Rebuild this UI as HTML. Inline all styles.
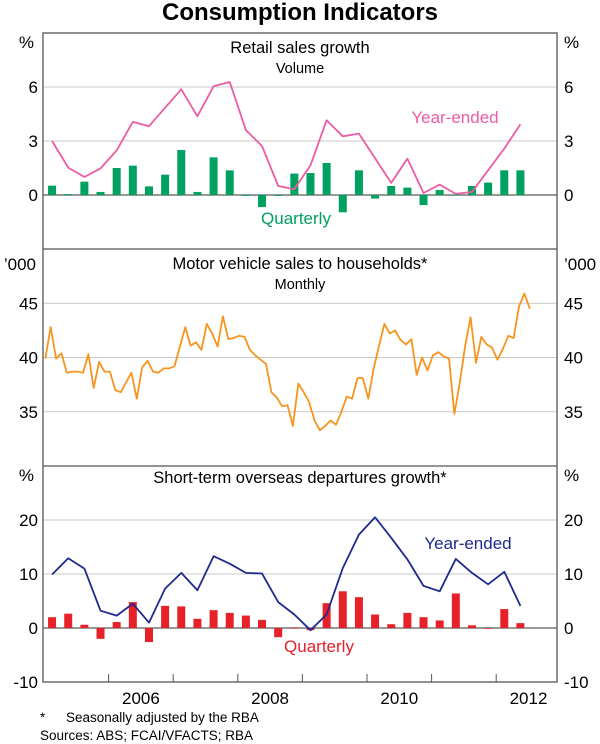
<!DOCTYPE html>
<html><head><meta charset="utf-8"><style>
body{margin:0;background:#fff;}
svg{display:block;font-family:"Liberation Sans",Arial,sans-serif;}
</style></head><body>
<svg id="chart" width="600" height="744" viewBox="0 0 600 744">
<text x="300" y="20" text-anchor="middle" font-size="24" font-weight="bold">Consumption Indicators</text>
<g id="grid"></g>
<g id="marks"></g>
<g id="frame"></g>
<g id="labels" font-size="17" fill="#000"></g>
<text x="300" y="53" text-anchor="middle" font-size="16.5">Retail sales growth</text>
<text x="300" y="73" text-anchor="middle" font-size="14.5">Volume</text>
<text x="455" y="123" text-anchor="middle" font-size="17" fill="#ec5ca3">Year-ended</text>
<text x="296" y="224" text-anchor="middle" font-size="17" fill="#00a060">Quarterly</text>
<text x="300" y="269" text-anchor="middle" font-size="16.5">Motor vehicle sales to households*</text>
<text x="300" y="289" text-anchor="middle" font-size="14.5">Monthly</text>
<text x="300" y="483" text-anchor="middle" font-size="16.5">Short-term overseas departures growth*</text>
<text x="468" y="549" text-anchor="middle" font-size="17" fill="#1f2a8c">Year-ended</text>
<text x="319" y="652" text-anchor="middle" font-size="17" fill="#e8202a">Quarterly</text>
<text x="40" y="722" font-size="13.5">*</text>
<text x="66" y="722" font-size="13.5">Seasonally adjusted by the RBA</text>
<text x="40" y="740" font-size="13.5">Sources: ABS; FCAI/VFACTS; RBA</text>
</svg>
<script>
// ---- data ----
const years = ['2006','2008','2010','2012'];
const yearValues = [2006,2008,2010,2012];
const retailQuarterly = [0.52,0.05,0.74,0.17,1.5,1.63,0.48,1.13,2.5,0.17,2.09,1.37,-0.05,-0.67,-0.05,1.19,1.22,1.78,-0.96,1.37,-0.2,0.5,0.41,-0.56,0.28,0.02,0.5,0.69,1.37,1.37];
const retailYearEnded = [3.0,1.52,1.0,1.48,2.48,4.06,3.82,4.85,5.87,4.37,6.04,6.28,3.6,2.72,0.5,0.32,1.65,4.15,3.26,3.41,2.04,0.67,2.02,0.11,0.58,0.06,0.17,1.37,2.58,3.93];
const retailTicks = [0,3,6];
const vehicleMonthly = [39.9,42.8,39.9,40.4,38.6,38.7,38.7,38.6,40.3,37.2,39.6,38.7,38.7,37.0,36.8,37.7,38.6,36.2,39.1,39.7,38.7,38.6,39.0,39.0,39.2,41.0,42.8,41.1,41.4,40.7,43.1,42.2,41.0,43.8,41.7,41.8,42.0,41.9,40.7,40.2,39.8,39.4,36.8,36.3,35.5,35.6,33.7,37.6,36.8,35.9,34.2,33.3,33.7,34.2,33.8,35.0,36.4,36.2,38.1,38.1,36.2,39.0,41.1,43.1,42.2,42.5,41.6,41.2,41.7,38.4,40.0,38.8,40.2,40.5,40.1,39.9,34.8,37.7,41.1,43.7,39.5,41.9,41.2,40.9,39.8,40.8,42.0,41.8,44.7,45.9,44.5];
const vehicleTicks = [35,40,45];
const departQuarterly = [2.0,2.65,0.6,-2.0,1.1,4.8,-2.6,4.1,4.0,1.7,3.3,2.8,2.3,1.5,-1.7,0.1,-0.4,4.6,6.8,5.7,2.5,0.7,2.8,2.0,1.4,6.4,0.5,0.0,3.5,0.9];
const departYearEnded = [9.9,12.9,11.0,3.2,2.3,4.5,1.0,7.3,10.2,7.0,13.3,11.9,10.2,10.1,4.8,2.5,-0.4,2.5,11.1,17.3,20.5,16.7,12.7,7.8,6.8,12.8,10.2,8.1,10.4,4.1];
const departTicks = [-10,0,10,20];

// ---- geometry ----
const NS='http://www.w3.org/2000/svg';
const L=44, R=557, PPY=64.6;
const xT = t => L + (t-2005)*PPY;
const qX = i => xT(2005 + i*0.25 + 0.125);
const mX = i => xT(2005 + i/12 + 0.02);
const panels = {
  retail:{top:33,bottom:249,min:-3,max:9},
  vehicle:{top:249,bottom:466,min:30,max:50},
  depart:{top:466,bottom:682,min:-10,max:30}
};
const yS = (p,v) => p.bottom - (v-p.min)/(p.max-p.min)*(p.bottom-p.top);
function el(tag, attrs, parent){const e=document.createElementNS(NS,tag);for(const k in attrs)e.setAttribute(k,attrs[k]);parent.appendChild(e);return e;}
const grid=document.getElementById('grid'), marks=document.getElementById('marks'), frame=document.getElementById('frame'), labels=document.getElementById('labels');

function ticks(p, arr, name){
  arr.forEach(v=>{
    const y=yS(p,v);
    const zero = v===0;
    const ln=el('line',{x1:L-1,x2:R,y1:y,y2:y,stroke:zero?'#777':'#c8c8c8','stroke-width':zero?1.5:1},grid);
    
    
    const t1=el('text',{x:38,y:y+6,'text-anchor':'end'},labels); t1.textContent=v;
    
    
    const t2=el('text',{x:564,y:y+6},labels); t2.textContent=v;
    
    
  });
}
ticks(panels.retail, retailTicks, 'retail');
ticks(panels.vehicle, vehicleTicks, 'vehicle');
ticks(panels.depart, departTicks, 'depart');

[['%','%',48,'retail'],['\u2019000','\u2019000',270,'vehicle'],['%','%',481,'depart']].forEach(u=>{
  const a=el('text',{x:u[3]==='vehicle'?36:34,y:u[2],'text-anchor':'end'},labels);a.textContent=u[0];
  
  
  const b=el('text',{x:564,y:u[2]},labels);b.textContent=u[1];
  
  
});

function bars(p, data, color, name){
  const y0=yS(p,0);
  data.forEach((v,i)=>{
    const y=yS(p,v);
    const r=el('rect',{x:qX(i)-4,y:Math.min(y,y0),width:8,height:Math.max(Math.abs(y-y0),0.8),fill:color},marks);
    
    
  });
}
function line(p, data, xf, color, name){
  const pts=data.map((v,i)=>xf(i).toFixed(1)+','+yS(p,v).toFixed(1)).join(' ');
  const pl=el('polyline',{points:pts,fill:'none',stroke:color,'stroke-width':1.8,'stroke-linejoin':'round'},marks);
  
  
}
bars(panels.retail, retailQuarterly, '#00a060', 'retail-quarterly');
line(panels.retail, retailYearEnded, qX, '#ec5ca3', 'retail-year-ended');
line(panels.vehicle, vehicleMonthly, mX, '#f7941d', 'vehicle-monthly');
bars(panels.depart, departQuarterly, '#e8202a', 'depart-quarterly');
line(panels.depart, departYearEnded, qX, '#1f2a8c', 'depart-year-ended');

// frame
const fr=el('rect',{x:L-1,y:33,width:R-L+1,height:682-33,fill:'none',stroke:'#555','stroke-width':1.3},frame);


[249,466].forEach(y=>{
  const s=el('line',{x1:L-1,x2:R,y1:y,y2:y,stroke:'#555','stroke-width':1.3},frame);
  
  
});
for(let yr=2006; yr<=2012; yr++){
  const x=xT(yr);
  const t=el('line',{x1:x,x2:x,y1:682,y2:674,stroke:'#555','stroke-width':1},frame);
  
  
}
years.forEach((s,i)=>{
  const t=el('text',{x:xT(yearValues[i]+0.5),y:704,'text-anchor':'middle'},labels);
  t.textContent=s;
  
  
});
</script>
</body></html>
